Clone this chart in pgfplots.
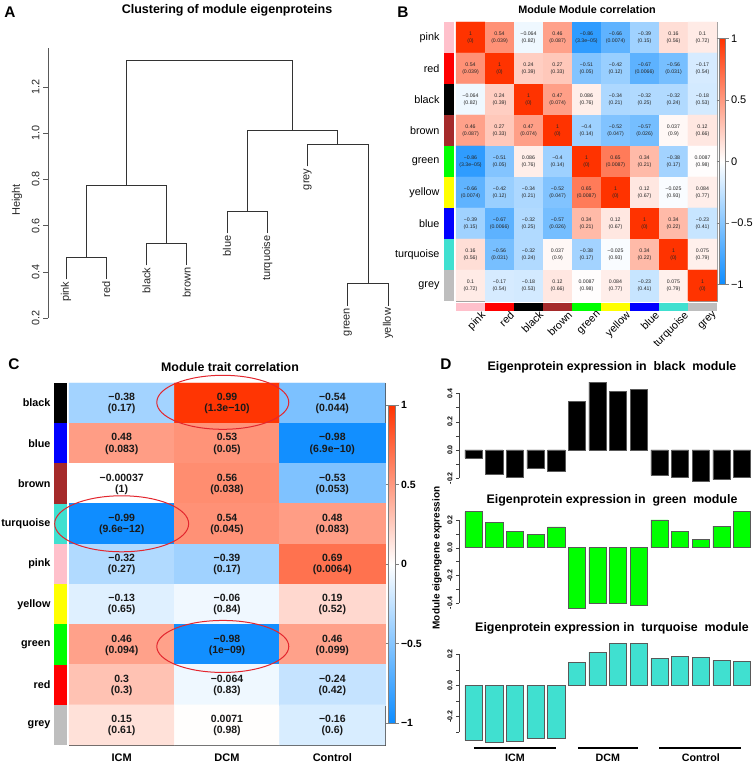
\documentclass[border=0pt]{standalone}
\usepackage{fontspec}
\setmainfont{Liberation Sans}
\usepackage{pgfplots}
\usepackage{pgfplotstable}
\pgfplotsset{compat=1.18}
\definecolor{mpink}{HTML}{FFC0CB}
\definecolor{mred}{HTML}{FF0000}
\definecolor{mbrown}{HTML}{A52A2A}
\definecolor{mgreen}{HTML}{00FF00}
\definecolor{myellow}{HTML}{FFFF00}
\definecolor{mblue}{HTML}{0000FF}
\definecolor{mturq}{HTML}{40E0D0}
\definecolor{mgrey}{HTML}{BEBEBE}
\definecolor{ellred}{HTML}{E3262E}
\pgfplotsset{colormap={bwr}{rgb=(0.05,0.55,1) rgb=(1,1,1) rgb=(1,0.2,0)}}
\newcommand{\fs}[1]{\fontsize{#1}{#1}\selectfont}

\pgfplotstableread{
x y r rt p
0 8 1 1 0
1 8 0.54 0.54 0.039
2 8 -0.064 −0.064 0.82
3 8 0.46 0.46 0.087
4 8 -0.86 −0.86 3.3e−05
5 8 -0.66 −0.66 0.0074
6 8 -0.39 −0.39 0.15
7 8 0.16 0.16 0.56
8 8 0.1 0.1 0.72
0 7 0.54 0.54 0.039
1 7 1 1 0
2 7 0.24 0.24 0.39
3 7 0.27 0.27 0.33
4 7 -0.51 −0.51 0.05
5 7 -0.42 −0.42 0.12
6 7 -0.67 −0.67 0.0066
7 7 -0.56 −0.56 0.031
8 7 -0.17 −0.17 0.54
0 6 -0.064 −0.064 0.82
1 6 0.24 0.24 0.39
2 6 1 1 0
3 6 0.47 0.47 0.074
4 6 0.086 0.086 0.76
5 6 -0.34 −0.34 0.21
6 6 -0.32 −0.32 0.25
7 6 -0.32 −0.32 0.24
8 6 -0.18 −0.18 0.53
0 5 0.46 0.46 0.087
1 5 0.27 0.27 0.33
2 5 0.47 0.47 0.074
3 5 1 1 0
4 5 -0.4 −0.4 0.14
5 5 -0.52 −0.52 0.047
6 5 -0.57 −0.57 0.026
7 5 0.037 0.037 0.9
8 5 0.12 0.12 0.66
0 4 -0.86 −0.86 3.3e−05
1 4 -0.51 −0.51 0.05
2 4 0.086 0.086 0.76
3 4 -0.4 −0.4 0.14
4 4 1 1 0
5 4 0.65 0.65 0.0087
6 4 0.34 0.34 0.21
7 4 -0.38 −0.38 0.17
8 4 0.0087 0.0087 0.98
0 3 -0.66 −0.66 0.0074
1 3 -0.42 −0.42 0.12
2 3 -0.34 −0.34 0.21
3 3 -0.52 −0.52 0.047
4 3 0.65 0.65 0.0087
5 3 1 1 0
6 3 0.12 0.12 0.67
7 3 -0.025 −0.025 0.93
8 3 0.084 0.084 0.77
0 2 -0.39 −0.39 0.15
1 2 -0.67 −0.67 0.0066
2 2 -0.32 −0.32 0.25
3 2 -0.57 −0.57 0.026
4 2 0.34 0.34 0.21
5 2 0.12 0.12 0.67
6 2 1 1 0
7 2 0.34 0.34 0.22
8 2 -0.23 −0.23 0.41
0 1 0.16 0.16 0.56
1 1 -0.56 −0.56 0.031
2 1 -0.32 −0.32 0.24
3 1 0.037 0.037 0.9
4 1 -0.38 −0.38 0.17
5 1 -0.025 −0.025 0.93
6 1 0.34 0.34 0.22
7 1 1 1 0
8 1 0.075 0.075 0.79
0 0 0.1 0.1 0.72
1 0 -0.17 −0.17 0.54
2 0 -0.18 −0.18 0.53
3 0 0.12 0.12 0.66
4 0 0.0087 0.0087 0.98
5 0 0.084 0.084 0.77
6 0 -0.23 −0.23 0.41
7 0 0.075 0.075 0.79
8 0 1 1 0
}\tblB

\pgfplotstableread{
x y r rt p
0 8 -0.38 −0.38 0.17
1 8 0.99 0.99 1.3e−10
2 8 -0.54 −0.54 0.044
0 7 0.48 0.48 0.083
1 7 0.53 0.53 0.05
2 7 -0.98 −0.98 6.9e−10
0 6 -0.00037 −0.00037 1
1 6 0.56 0.56 0.038
2 6 -0.53 −0.53 0.053
0 5 -0.99 −0.99 9.6e−12
1 5 0.54 0.54 0.045
2 5 0.48 0.48 0.083
0 4 -0.32 −0.32 0.27
1 4 -0.39 −0.39 0.17
2 4 0.69 0.69 0.0064
0 3 -0.13 −0.13 0.65
1 3 -0.06 −0.06 0.84
2 3 0.19 0.19 0.52
0 2 0.46 0.46 0.094
1 2 -0.98 −0.98 1e−09
2 2 0.46 0.46 0.099
0 1 0.3 0.3 0.3
1 1 -0.064 −0.064 0.83
2 1 -0.24 −0.24 0.42
0 0 0.15 0.15 0.61
1 0 0.0071 0.0071 0.98
2 0 -0.16 −0.16 0.6
}\tblC

\pgfplotsset{
 daxis/.style={anchor=south west, scale only axis, width=292.4pt,
  xmin=0.294, xmax=14.45, axis x line=none, axis y line=left,
  axis line style={-, draw=black!75}, tick style={draw=black!75},
  yticklabel style={rotate=90, anchor=south, font=\fs{7}\bfseries},
  tick align=outside, major tick length=3pt, clip=false, enlargelimits=false},
 dbar/.style={ybar, bar width=17.2pt, draw=black!65, line width=0.6pt},
 txt/.style={only marks, mark=*, mark size=0pt, mark options={draw=none, fill=none},
  point meta=explicit symbolic, nodes near coords},
 dend/.style={draw=black!80, line width=0.6pt, mark=none}
}

\begin{document}
\begin{tikzpicture}
\path[use as bounding box] (0,0) rectangle (753pt,764pt);

% ---------------- Panel A ----------------
\node[font=\fs{15.4}\bfseries] at (10pt,752pt) {A};
\node[font=\fs{12.5}\bfseries] at (227pt,754pt) {Clustering of module eigenproteins};
\node[font=\fs{11}, rotate=90, text=black!85] at (17pt,564pt) {Height};
\begin{axis}[at={(48pt,446pt)}, anchor=south west, scale only axis,
  width=360.4pt, height=270.3pt,
  xmin=0.553, xmax=9.507, ymin=0.2, ymax=1.37,
  axis x line=none, axis y line=left, axis line style={-, draw=black!65},
  ytick={0.2,0.4,0.6,0.8,1.0,1.2}, yticklabels={0.2,0.4,0.6,0.8,1.0,1.2},
  yticklabel style={rotate=90, anchor=south, font=\fs{10.8}, text=black!85},
  tick align=outside, major tick length=5pt, tick style={draw=black!65},
  clip=false, enlargelimits=false]
\addplot[dend] coordinates {(1,0.367) (1,0.464) (2,0.464) (2,0.367)};
\addplot[dend] coordinates {(3,0.428) (3,0.525) (4,0.525) (4,0.428)};
\addplot[dend] coordinates {(1.5,0.464) (1.5,0.776) (3.5,0.776) (3.5,0.525)};
\addplot[dend] coordinates {(5,0.566) (5,0.663) (6,0.663) (6,0.566)};
\addplot[dend] coordinates {(8,0.253) (8,0.35) (9,0.35) (9,0.253)};
\addplot[dend] coordinates {(7,0.856) (7,0.953) (8.5,0.953) (8.5,0.35)};
\addplot[dend] coordinates {(5.5,0.663) (5.5,1.014) (7.75,1.014) (7.75,0.953)};
\addplot[dend] coordinates {(2.5,0.776) (2.5,1.317) (6.625,1.317) (6.625,1.014)};
\addplot[txt, nodes near coords style={rotate=90, anchor=east, font=\fs{11}, text=black!85, inner sep=2pt}]
  table[meta=name] {
x y name
1 0.367 pink
2 0.367 red
3 0.428 black
4 0.428 brown
5 0.566 blue
6 0.566 turquoise
7 0.856 grey
8 0.253 green
9 0.253 yellow
};
\end{axis}

% ---------------- Panel B ----------------
\node[font=\fs{15.4}\bfseries] at (403pt,752pt) {B};
\node[font=\fs{10.8}\bfseries] at (587pt,754pt) {Module Module correlation};
\begin{axis}[at={(456pt,463pt)}, anchor=south west, scale only axis,
  width=261pt, height=279pt,
  xmin=-0.5, xmax=8.5, ymin=-0.5, ymax=8.5,
  enlargelimits=false, clip=false,
  axis line style={draw=black!40},
  xtick={0,...,8}, ytick={0,...,8},
  xticklabels={pink,red,black,brown,green,yellow,blue,turquoise,grey},
  yticklabels={grey,turquoise,blue,yellow,green,brown,black,red,pink},
  major tick length=0pt,
  xticklabel style={rotate=45, anchor=north east, font=\fs{10.8}, inner sep=0.5pt, yshift=-13pt, xshift=1pt},
  yticklabel style={font=\fs{10.8}, xshift=-13pt},
  colormap name=bwr, point meta min=-1, point meta max=1,
  colorbar, colorbar style={at={(parent axis.east)}, anchor=west, xshift=-6pt,
    scale only axis, width=6pt, height=246pt,
    ytick={-1,-0.5,0,0.5,1}, yticklabels={−1,−0.5,0,0.5,1},
    yticklabel style={font=\fs{11}, xshift=-1pt}, major tick length=3pt, tick align=outside,
    axis line style={draw=black!50}}]
\addplot[matrix plot*, mesh/cols=9, point meta=explicit] table[x=x, y=y, meta=r] \tblB;
\addplot[txt, nodes near coords style={anchor=center, inner sep=0pt, yshift=3.4pt, font=\fs{5.2}, text=black!85}]
  table[x=x, y=y, meta=rt] \tblB;
\addplot[txt, nodes near coords={(\pgfplotspointmeta)},
  nodes near coords style={anchor=center, inner sep=0pt, yshift=-3.4pt, font=\fs{5.2}, text=black!85}]
  table[x=x, y=y, meta=p] \tblB;
% row colour bar
\addplot[fill=mpink, draw=none] coordinates {(-0.914,7.5) (-0.569,7.5) (-0.569,8.5) (-0.914,8.5)};
\addplot[fill=mred, draw=none] coordinates {(-0.914,6.5) (-0.569,6.5) (-0.569,7.5) (-0.914,7.5)};
\addplot[fill=black, draw=none] coordinates {(-0.914,5.5) (-0.569,5.5) (-0.569,6.5) (-0.914,6.5)};
\addplot[fill=mbrown, draw=none] coordinates {(-0.914,4.5) (-0.569,4.5) (-0.569,5.5) (-0.914,5.5)};
\addplot[fill=mgreen, draw=none] coordinates {(-0.914,3.5) (-0.569,3.5) (-0.569,4.5) (-0.914,4.5)};
\addplot[fill=myellow, draw=none] coordinates {(-0.914,2.5) (-0.569,2.5) (-0.569,3.5) (-0.914,3.5)};
\addplot[fill=mblue, draw=none] coordinates {(-0.914,1.5) (-0.569,1.5) (-0.569,2.5) (-0.914,2.5)};
\addplot[fill=mturq, draw=none] coordinates {(-0.914,0.5) (-0.569,0.5) (-0.569,1.5) (-0.914,1.5)};
\addplot[fill=mgrey, draw=none] coordinates {(-0.914,-0.5) (-0.569,-0.5) (-0.569,0.5) (-0.914,0.5)};
% column colour bar
\addplot[fill=mpink, draw=none] coordinates {(-0.5,-0.823) (0.5,-0.823) (0.5,-0.565) (-0.5,-0.565)};
\addplot[fill=mred, draw=none] coordinates {(0.5,-0.823) (1.5,-0.823) (1.5,-0.565) (0.5,-0.565)};
\addplot[fill=black, draw=none] coordinates {(1.5,-0.823) (2.5,-0.823) (2.5,-0.565) (1.5,-0.565)};
\addplot[fill=mbrown, draw=none] coordinates {(2.5,-0.823) (3.5,-0.823) (3.5,-0.565) (2.5,-0.565)};
\addplot[fill=mgreen, draw=none] coordinates {(3.5,-0.823) (4.5,-0.823) (4.5,-0.565) (3.5,-0.565)};
\addplot[fill=myellow, draw=none] coordinates {(4.5,-0.823) (5.5,-0.823) (5.5,-0.565) (4.5,-0.565)};
\addplot[fill=mblue, draw=none] coordinates {(5.5,-0.823) (6.5,-0.823) (6.5,-0.565) (5.5,-0.565)};
\addplot[fill=mturq, draw=none] coordinates {(6.5,-0.823) (7.5,-0.823) (7.5,-0.565) (6.5,-0.565)};
\addplot[fill=mgrey, draw=none] coordinates {(7.5,-0.823) (8.5,-0.823) (8.5,-0.565) (7.5,-0.565)};
\end{axis}

% ---------------- Panel C ----------------
\node[font=\fs{15.4}\bfseries] at (14pt,400pt) {C};
\node[font=\fs{12.4}\bfseries] at (230pt,397pt) {Module trait correlation};
\begin{axis}[at={(69pt,19pt)}, anchor=south west, scale only axis,
  width=316pt, height=362pt,
  xmin=-0.5, xmax=2.5, ymin=-0.5, ymax=8.5,
  enlargelimits=false, clip=false,
  axis line style={draw=black!70},
  xtick={0,1,2}, xticklabels={ICM,DCM,Control},
  ytick={0,...,8},
  yticklabels={grey,red,green,yellow,pink,turquoise,brown,blue,black},
  major tick length=0pt,
  xticklabel style={font=\fs{11}\bfseries, yshift=-5pt},
  yticklabel style={font=\fs{10.8}\bfseries, xshift=-15pt},
  colormap name=bwr, point meta min=-1, point meta max=1,
  colorbar, colorbar style={at={(parent axis.east)}, anchor=west, xshift=-5pt,
    scale only axis, width=7pt, height=318pt,
    ytick={-1,-0.5,0,0.5,1}, yticklabels={−1,−0.5,0,0.5,1},
    yticklabel style={font=\fs{10.5}\bfseries, xshift=-1pt}, major tick length=3pt, tick align=outside,
    axis line style={draw=black!50}}]
\addplot[matrix plot*, mesh/cols=3, point meta=explicit] table[x=x, y=y, meta=r] \tblC;
\addplot[txt, nodes near coords style={anchor=center, inner sep=0pt, yshift=6pt, font=\fs{10.5}\bfseries, text=black!90}]
  table[x=x, y=y, meta=rt] \tblC;
\addplot[txt, nodes near coords={(\pgfplotspointmeta)},
  nodes near coords style={anchor=center, inner sep=0pt, yshift=-6pt, font=\fs{10.5}\bfseries, text=black!90}]
  table[x=x, y=y, meta=p] \tblC;
\addplot[fill=black, draw=none] coordinates {(-0.642,7.5) (-0.519,7.5) (-0.519,8.5) (-0.642,8.5)};
\addplot[fill=mblue, draw=none] coordinates {(-0.642,6.5) (-0.519,6.5) (-0.519,7.5) (-0.642,7.5)};
\addplot[fill=mbrown, draw=none] coordinates {(-0.642,5.5) (-0.519,5.5) (-0.519,6.5) (-0.642,6.5)};
\addplot[fill=mturq, draw=none] coordinates {(-0.642,4.5) (-0.519,4.5) (-0.519,5.5) (-0.642,5.5)};
\addplot[fill=mpink, draw=none] coordinates {(-0.642,3.5) (-0.519,3.5) (-0.519,4.5) (-0.642,4.5)};
\addplot[fill=myellow, draw=none] coordinates {(-0.642,2.5) (-0.519,2.5) (-0.519,3.5) (-0.642,3.5)};
\addplot[fill=mgreen, draw=none] coordinates {(-0.642,1.5) (-0.519,1.5) (-0.519,2.5) (-0.642,2.5)};
\addplot[fill=mred, draw=none] coordinates {(-0.642,0.5) (-0.519,0.5) (-0.519,1.5) (-0.642,1.5)};
\addplot[fill=mgrey, draw=none] coordinates {(-0.642,-0.5) (-0.519,-0.5) (-0.519,0.5) (-0.642,0.5)};
\draw[ellred, line width=1pt] (axis cs:0.96,8.02) ellipse [x radius=66pt, y radius=27pt];
\draw[ellred, line width=1pt] (axis cs:0,5) ellipse [x radius=67pt, y radius=28pt];
\draw[ellred, line width=1pt] (axis cs:0.96,1.95) ellipse [x radius=66pt, y radius=26pt];
\end{axis}

% ---------------- Panel D ----------------
\node[font=\fs{15.4}\bfseries] at (446pt,400pt) {D};
\node[font=\fs{12.4}\bfseries] at (612pt,397pt) {Eigenprotein expression in\ \ black\ \ module};
\node[font=\fs{12.4}\bfseries] at (612pt,264pt) {Eigenprotein expression in\ \ green\ \ module};
\node[font=\fs{12.4}\bfseries] at (612pt,136pt) {Eigenprotein expression in\ \ turquoise\ \ module};
\node[font=\fs{10}\bfseries, rotate=90] at (437pt,206pt) {Module eigengene expression};

\begin{axis}[daxis, at={(459pt,285.7pt)}, height=84.9pt, ymin=-0.2, ymax=0.4,
  ytick={-0.2,-0.1,0,0.1,0.2,0.3,0.4}, yticklabels={-0.2,,0.0,,0.2,,0.4}]
\addplot[dbar, fill=black] coordinates {(1,-0.057) (2,-0.17) (3,-0.19) (4,-0.13) (5,-0.15)
 (6,0.345) (7,0.48) (8,0.415) (9,0.43) (10,-0.18) (11,-0.19) (12,-0.22) (13,-0.21) (14,-0.19)};
\end{axis}

\begin{axis}[daxis, at={(459pt,161pt)}, height=83pt, ymin=-0.4, ymax=0.2,
  ytick={-0.4,-0.3,-0.2,-0.1,0,0.1,0.2}, yticklabels={-0.4,,-0.2,,0.0,,0.2}]
\addplot[dbar, fill=mgreen] coordinates {(1,0.26) (2,0.18) (3,0.12) (4,0.093) (5,0.15)
 (6,-0.435) (7,-0.405) (8,-0.40) (9,-0.42) (10,0.20) (11,0.117) (12,0.06) (13,0.155) (14,0.265)};
\end{axis}

\begin{axis}[daxis, at={(459pt,31.9pt)}, height=78pt, ymin=-0.3, ymax=0.2,
  ytick={-0.3,-0.2,-0.1,0,0.1,0.2}, yticklabels={,-0.2,,0.0,,0.2}]
\addplot[dbar, fill=mturq] coordinates {(1,-0.353) (2,-0.364) (3,-0.36) (4,-0.34) (5,-0.342)
 (6,0.148) (7,0.213) (8,0.27) (9,0.27) (10,0.172) (11,0.187) (12,0.18) (13,0.159) (14,0.152)};
\addplot[black, line width=1.3pt, mark=none] coordinates {(1.02,-0.402) (4.99,-0.402)};
\addplot[black, line width=1.3pt, mark=none] coordinates {(6.05,-0.402) (8.95,-0.402)};
\addplot[black, line width=1.3pt, mark=none] coordinates {(10.0,-0.402) (13.97,-0.402)};
\node[font=\fs{10.7}\bfseries] at (axis cs:3,-0.466) {ICM};
\node[font=\fs{10.7}\bfseries] at (axis cs:7.5,-0.466) {DCM};
\node[font=\fs{10.7}\bfseries] at (axis cs:12,-0.466) {Control};
\end{axis}
\end{tikzpicture}
\end{document}
